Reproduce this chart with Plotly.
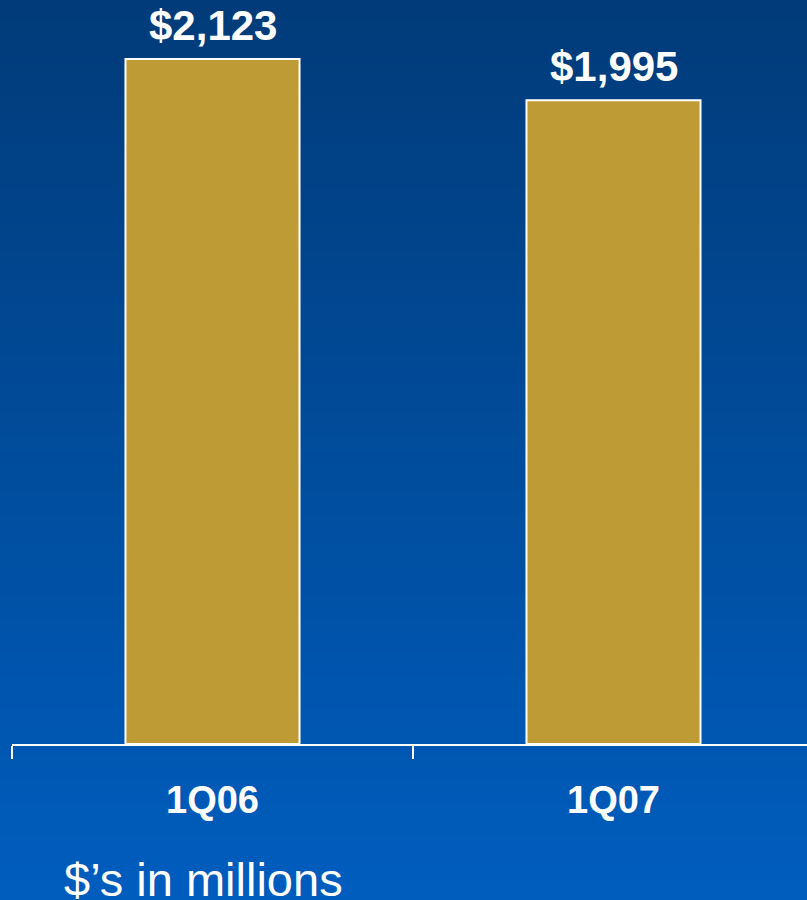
import plotly.graph_objects as go

categories = ["1Q06", "1Q07"]
values = [2123, 1995]
value_labels = ["$2,123", "$1,995"]
note_text = "$\u2019s in millions"

W, H = 807, 900
ML, MR, MT, MB = 12, 0, 0, 156
plot_w = W - ML - MR
plot_h = H - MT - MB
cat_px = 401.0
x_range = [-0.5, -0.5 + plot_w / cat_px]
y_range = [0, 2306]

top_rgb = (1, 59, 121)
bot_rgb = (0, 93, 190)

def px_to_paper_y(p):
    return (plot_h + MT - p) / plot_h

def px_to_paper_x(p):
    return (p - ML) / plot_w

shapes = []
step = 5
for p in range(0, H, step):
    t = (p + step / 2) / H
    c = tuple(round(a + (b - a) * t) for a, b in zip(top_rgb, bot_rgb))
    shapes.append(dict(
        type="rect", xref="paper", yref="paper", layer="below",
        x0=px_to_paper_x(-2), x1=px_to_paper_x(W + 2),
        y0=px_to_paper_y(p + step + 1), y1=px_to_paper_y(p),
        fillcolor="rgb(%d,%d,%d)" % c, line=dict(width=0),
    ))

fig = go.Figure()
fig.add_trace(go.Bar(
    x=categories, y=values, width=0.434,
    marker=dict(color="#BF9B35", line=dict(color="white", width=2)),
    hoverinfo="skip",
))

annotations = []
for c, v, lab in zip(categories, values, value_labels):
    annotations.append(dict(
        x=c, y=v, xref="x", yref="y", text="<b>%s</b>" % lab,
        showarrow=False, yanchor="bottom", yshift=8,
        font=dict(family="Liberation Sans, Arial, sans-serif", size=42, color="white"),
    ))
annotations.append(dict(
    x=px_to_paper_x(62), y=px_to_paper_y(908), xref="paper", yref="paper",
    text=note_text, showarrow=False, xanchor="left", yanchor="bottom",
    font=dict(family="Liberation Sans, Arial, sans-serif", size=47, color="white"),
))

fig.update_layout(
    width=W, height=H,
    margin=dict(l=ML, r=MR, t=MT, b=MB, pad=0),
    paper_bgcolor="rgb(0,93,190)",
    plot_bgcolor="rgba(0,0,0,0)",
    showlegend=False,
    shapes=shapes,
    annotations=annotations,
    xaxis=dict(
        type="category", range=x_range, tickson="boundaries",
        showline=True, linecolor="white", linewidth=2,
        ticks="outside", ticklen=13, tickwidth=2, tickcolor="white",
        tickfont=dict(family="Liberation Sans, Arial, sans-serif", size=38, color="white"),
        tickvals=categories, ticktext=["<b>%s</b>" % c for c in categories],
        ticklabelstandoff=21,
        showgrid=False, zeroline=False, fixedrange=True,
    ),
    yaxis=dict(range=y_range, visible=False, showgrid=False, zeroline=False, fixedrange=True),
)

fig.write_html("out.html")
